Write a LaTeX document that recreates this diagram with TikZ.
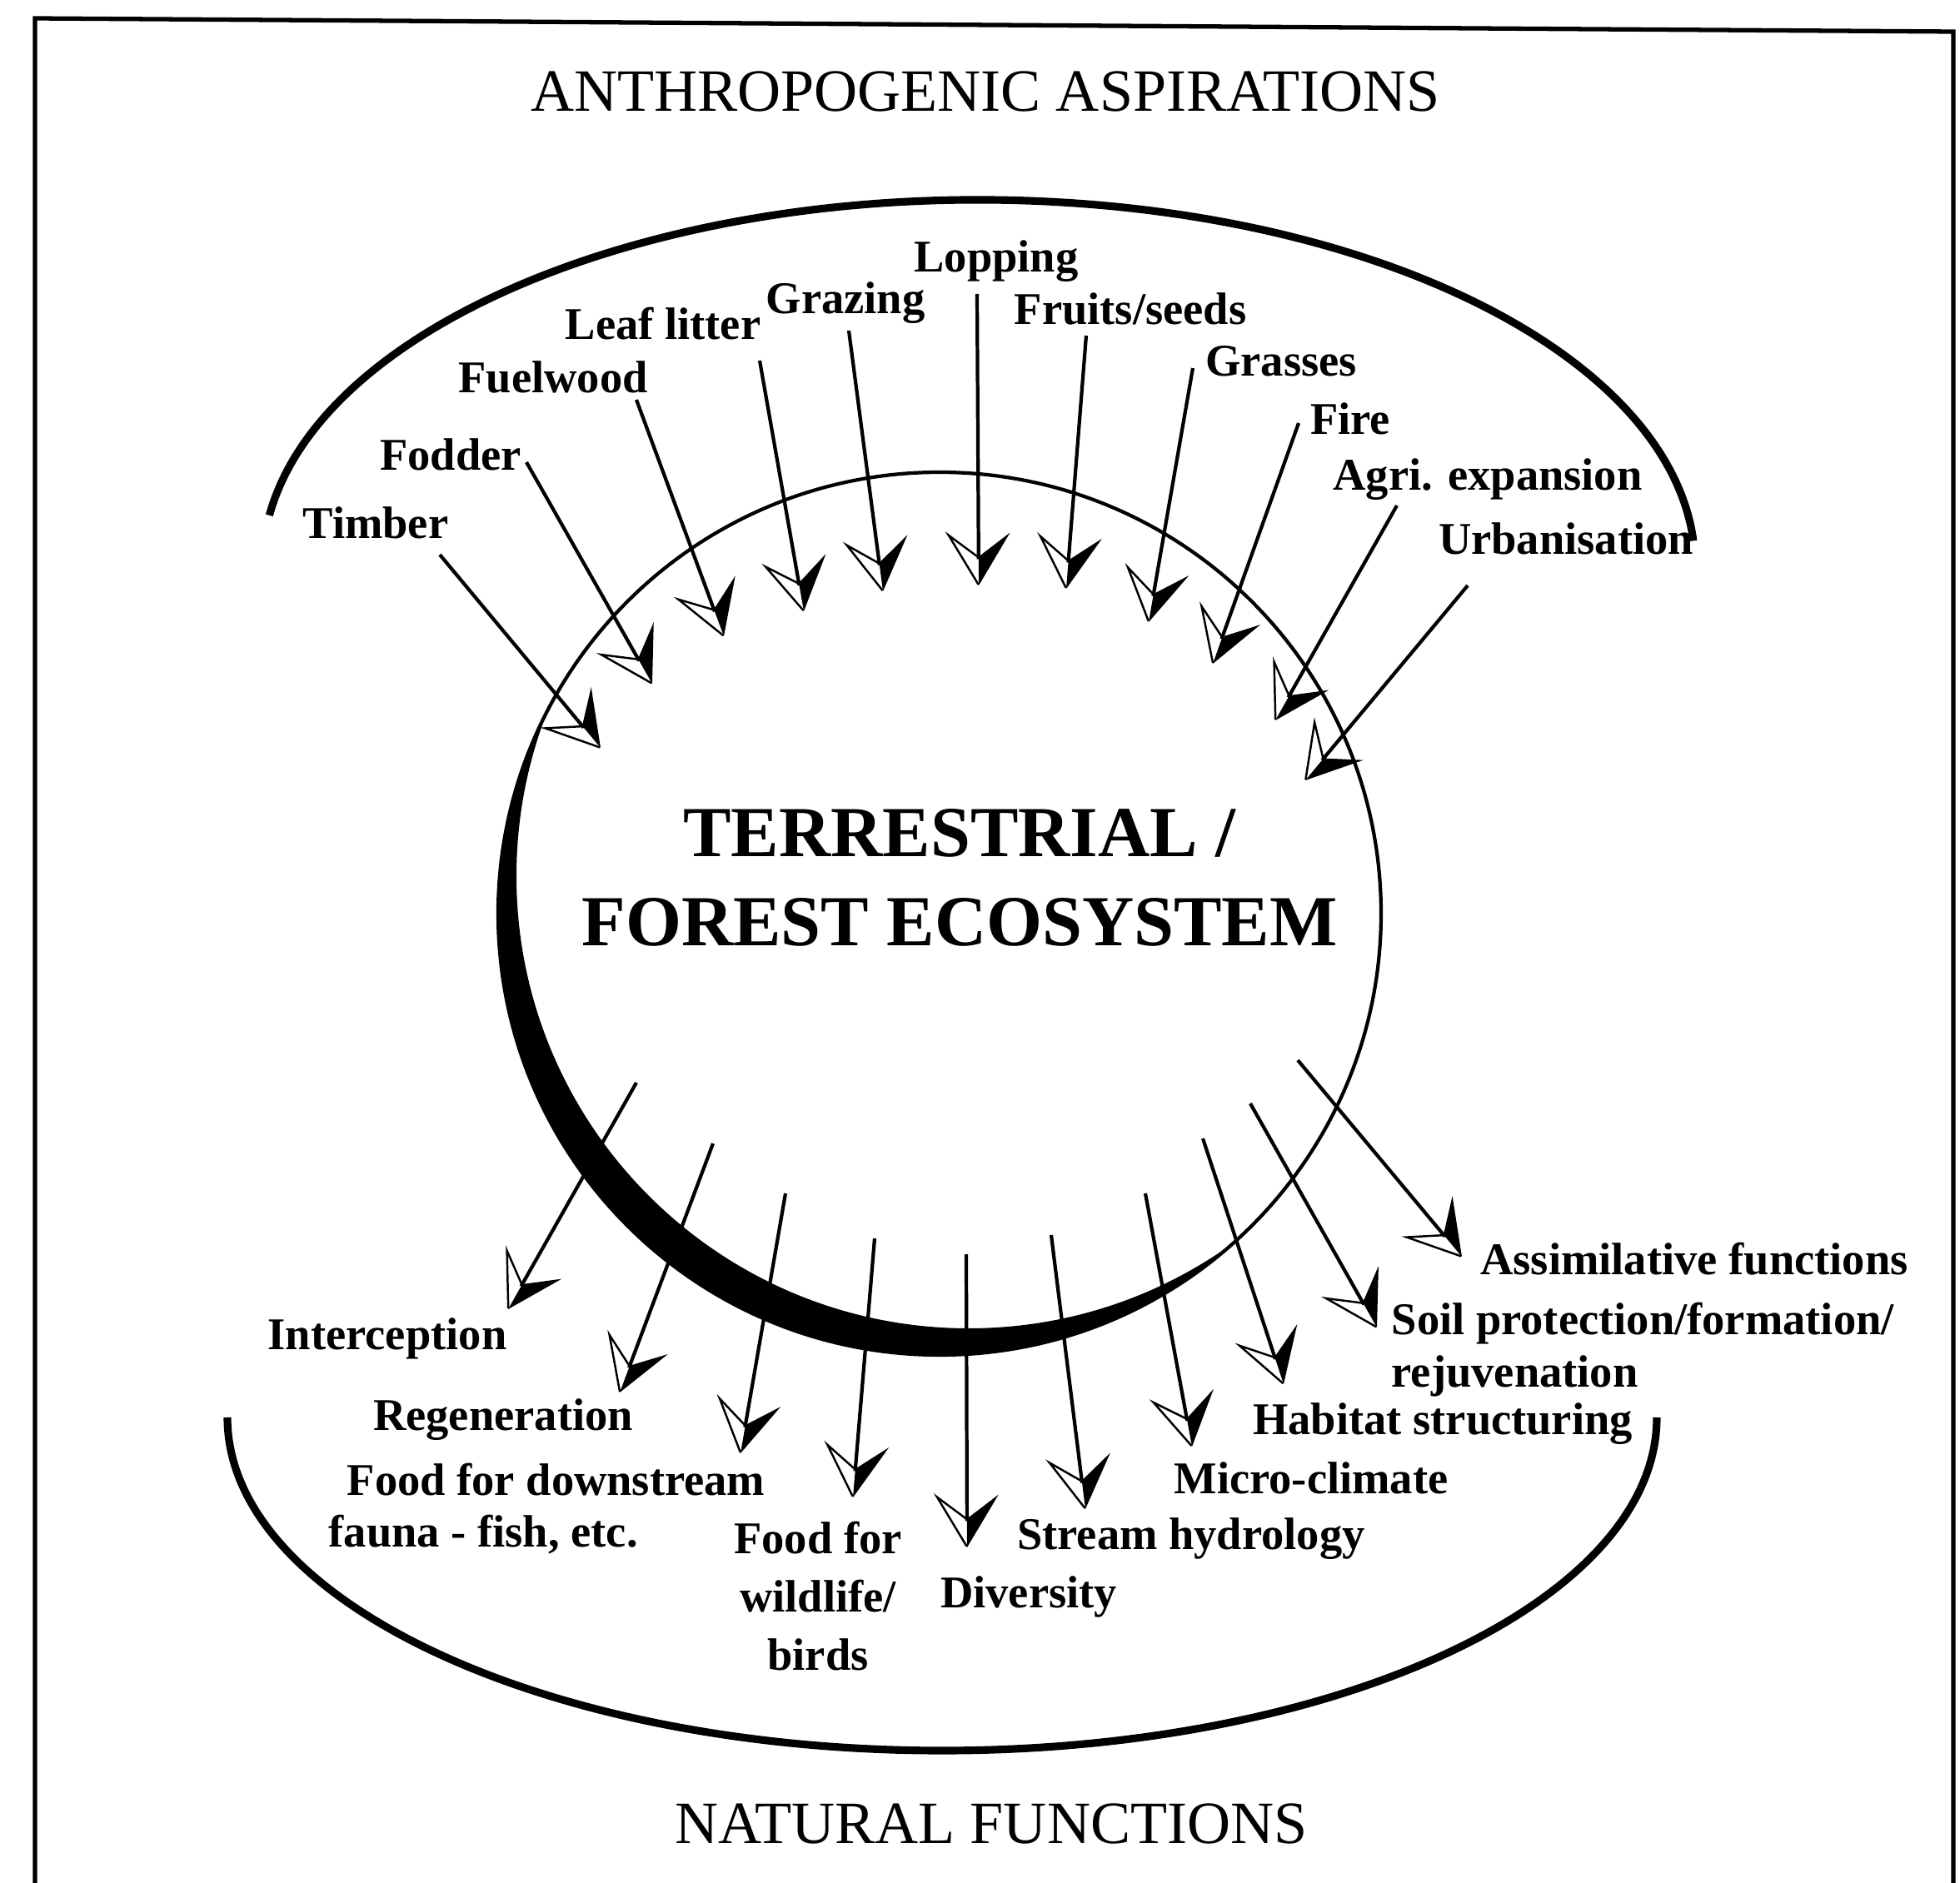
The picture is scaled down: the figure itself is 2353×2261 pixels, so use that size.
\documentclass[tikz,border=0pt]{standalone}
\usepackage{fontspec}
\setmainfont{Liberation Serif}
\usetikzlibrary{arrows.meta}
\pgfdeclarearrow{
  name = HalfBarb,
  setup code = {
    \pgfarrowssettipend{0pt}
    \pgfarrowssetlineend{-9pt}
    \pgfarrowssetbackend{-18pt}
    \pgfarrowssetvisualbackend{-9.8pt}
    \pgfarrowshullpoint{0pt}{0pt}
    \pgfarrowsupperhullpoint{-18pt}{10.8pt}
  },
  drawing code = {
    \pgfpathmoveto{\pgfqpoint{0pt}{0pt}}
    \pgfpathlineto{\pgfqpoint{-18pt}{10.8pt}}
    \pgfpathlineto{\pgfqpoint{-9.8pt}{0pt}}
    \pgfpathclose
    \pgfusepathqfill
    \pgfsetlinewidth{0.7pt}
    \pgfsetmiterjoin
    \pgfpathmoveto{\pgfqpoint{-0.3pt}{-0.1pt}}
    \pgfpathlineto{\pgfqpoint{-17.2pt}{-10.2pt}}
    \pgfpathlineto{\pgfqpoint{-9.8pt}{-0.3pt}}
    \pgfusepathqstroke
  },
  defaults = {}
}
\tikzset{
  arr/.style={line width=1.2pt, -{HalfBarb}},
  lab/.style={font=\fontsize{15.5}{18.5}\selectfont\bfseries, inner sep=0pt, anchor=base},
  ttl/.style={font=\fontsize{20.5}{24}\selectfont, inner sep=0pt, anchor=base},
  arcline/.style={line width=2.6pt},
  frameline/.style={line width=1.5pt},
}
\begin{document}
\begin{tikzpicture}[x=0.01cm,y=-0.01cm]
\useasboundingbox (0,0) rectangle (2353,2261);
% frame
\draw[frameline] (42,2261) -- (42,22) -- (2345,38) -- (2345,2261);
% titles
\node[ttl] (top) at (1183,134) {ANTHROPOGENIC ASPIRATIONS};
\node[ttl] (bottom) at (1190,2213) {NATURAL FUNCTIONS};
% outer arcs
\draw[arcline] (1175,680) ++(-172:860 and 440) arc[start angle=-172, end angle=-4, x radius=860, y radius=440];
\draw[arcline] (1131,1702) ++(180:858 and 400) arc[start angle=180, end angle=0, x radius=858, y radius=400];
% ecosystem circle with thick crescent
\begin{scope}
  \clip (1128,1097) circle[radius=530];
  \fill[even odd rule] (1128,1097) circle[radius=530] (1163,1052) circle[radius=543];
\end{scope}
\draw[line width=1.2pt] (1128,1097) circle[radius=530];
\node[font=\fontsize{24.5}{30.4}\selectfont\bfseries, align=center, inner sep=0pt, anchor=base] (eco) at (1152,1135) {TERRESTRIAL /\\FOREST ECOSYSTEM};
% top labels
\node[lab] (nTimber) at (451,647) {Timber};
\node[lab] (nFodder) at (541,565) {Fodder};
\node[lab] (nFuel) at (664,472) {Fuelwood};
\node[lab] (nLeaf) at (796,408) {Leaf litter};
\node[lab] (nGraz) at (1015,377) {Grazing};
\node[lab] (nLop) at (1196,327) {Lopping};
\node[lab] (nFruit) at (1357,390) {Fruits/seeds};
\node[lab] (nGrass) at (1538,452) {Grasses};
\node[lab] (nFire) at (1621,522) {Fire};
\node[lab] (nAgri) at (1786,589) {Agri. expansion};
\node[lab] (nUrb) at (1880,666) {Urbanisation};
% bottom labels
\node[lab] (nInt) at (465,1620) {Interception};
\node[lab] (nReg) at (604,1717) {Regeneration};
\node[lab, font=\fontsize{15.5}{17.6}\selectfont\bfseries, align=left, anchor=base west] (nFoodD) at (394,1857) {\hspace*{0.22cm}Food for downstream\\fauna - fish, etc.};
\node[lab, font=\fontsize{15.5}{19.8}\selectfont\bfseries, align=center] (nFoodW) at (982,2005) {Food for\\wildlife/\\birds};
\node[lab] (nDiv) at (1235,1930) {Diversity};
\node[lab] (nStream) at (1430,1860) {Stream hydrology};
\node[lab] (nMicro) at (1574,1793) {Micro-climate};
\node[lab] (nHab) at (1732,1722) {Habitat structuring};
\node[lab, font=\fontsize{15.5}{17.9}\selectfont\bfseries, align=left, anchor=base west] (nSoil) at (1670,1665) {Soil protection/formation/\\rejuvenation};
\node[lab] (nAssim) at (2034,1530) {Assimilative functions};
% arrow ends: inputs
\coordinate (tTimber) at (528,666);  \coordinate (hTimber) at (721,898);
\coordinate (tFodder) at (632,555);  \coordinate (hFodder) at (783,821);
\coordinate (tFuel) at (764,480);    \coordinate (hFuel) at (869,764);
\coordinate (tLeaf) at (912,433);    \coordinate (hLeaf) at (965,734);
\coordinate (tGraz) at (1019,397);   \coordinate (hGraz) at (1060,710);
\coordinate (tLop) at (1173,353);    \coordinate (hLop) at (1175,703);
\coordinate (tFruit) at (1304,403);  \coordinate (hFruit) at (1280,707);
\coordinate (tGrass) at (1432,442);  \coordinate (hGrass) at (1379,747);
\coordinate (tFire) at (1559,508);   \coordinate (hFire) at (1456,797);
\coordinate (tAgri) at (1677,607);   \coordinate (hAgri) at (1531,865);
\coordinate (tUrb) at (1762,703);    \coordinate (hUrb) at (1567,937);
% arrow ends: outputs
\coordinate (tInt) at (764,1300);    \coordinate (hInt) at (610,1572);
\coordinate (tReg) at (856,1373);    \coordinate (hReg) at (744,1672);
\coordinate (tFoodD) at (943,1433);  \coordinate (hFoodD) at (889,1745);
\coordinate (tFoodW) at (1050,1487); \coordinate (hFoodW) at (1024,1798);
\coordinate (tDiv) at (1160,1506);   \coordinate (hDiv) at (1161,1858);
\coordinate (tStream) at (1262,1483);\coordinate (hStream) at (1303,1812);
\coordinate (tMicro) at (1375,1433); \coordinate (hMicro) at (1431,1737);
\coordinate (tHab) at (1444,1367);   \coordinate (hHab) at (1541,1662);
\coordinate (tSoil) at (1501,1325);  \coordinate (hSoil) at (1653,1594);
\coordinate (tAssim) at (1558,1273); \coordinate (hAssim) at (1755,1509);
% arrows
\foreach \n in {Timber,Fodder,Fuel,Leaf,Graz,Lop,Fruit,Grass,Fire,Agri,Urb,Int,Reg,FoodD,FoodW,Div,Stream,Micro,Hab,Soil,Assim}
  \draw[arr] (t\n) -- (h\n);
\end{tikzpicture}
\end{document}
